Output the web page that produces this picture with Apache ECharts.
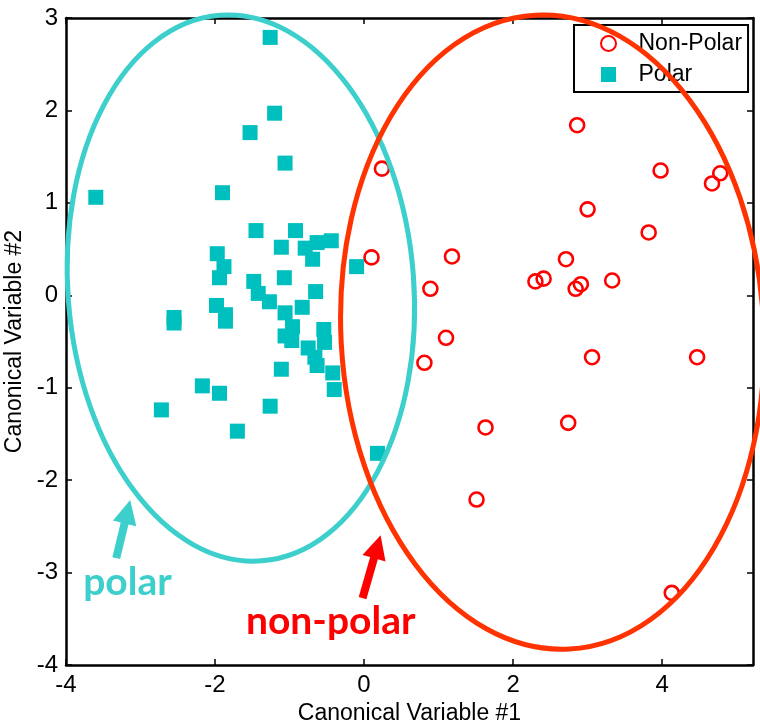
<!DOCTYPE html>
<html><head><meta charset="utf-8">
<script src="https://cdn.jsdelivr.net/npm/echarts@6/dist/echarts.min.js"></script>
<style>html,body{margin:0;padding:0;background:#fff}#c{width:760px;height:722px}</style>
</head><body><div id="c"></div>
<script>
// ---- data ----
const seriesNames = ['Non-Polar', 'Polar'];
const nonPolarX = [2.86, 0.24, 3.98, 4.78, 4.67, 3.00, 3.82, 0.10, 1.18, 2.71, 2.30, 2.41, 2.91, 2.84, 3.33, 0.89, 1.10, 0.81, 3.06, 4.47, 1.63, 2.74, 1.51, 4.13];
const nonPolarY = [1.84, 1.37, 1.35, 1.32, 1.21, 0.93, 0.68, 0.41, 0.42, 0.39, 0.15, 0.18, 0.12, 0.07, 0.16, 0.07, -0.46, -0.73, -0.67, -0.67, -1.43, -1.38, -2.21, -3.22];
const polarX = [-1.26, -1.20, -1.53, -1.06, -1.90, -3.60, -1.45, -0.92, -1.11, -0.79, -0.63, -0.44, -0.69, -0.10, -1.97, -1.88, -1.94, -1.48, -1.07, -1.42, -1.27, -0.65, -0.83, -1.06, -1.98, -1.86, -1.86, -2.55, -2.55, -0.96, -0.54, -1.06, -0.97, -0.53, -0.75, -0.66, -0.63, -1.11, -0.42, -0.40, -2.17, -1.94, -2.72, -1.26, -1.70, 0.18];
const polarY = [2.79, 1.97, 1.76, 1.43, 1.11, 1.06, 0.70, 0.70, 0.52, 0.51, 0.57, 0.59, 0.39, 0.31, 0.45, 0.31, 0.19, 0.15, 0.19, 0.02, -0.07, 0.04, -0.13, -0.19, -0.11, -0.21, -0.28, -0.24, -0.30, -0.34, -0.37, -0.44, -0.49, -0.51, -0.57, -0.67, -0.76, -0.80, -0.84, -1.02, -0.98, -1.06, -1.24, -1.20, -1.47, -1.71];
const xTicks = [-4, -2, 0, 2, 4];
const yTicks = [-4, -3, -2, -1, 0, 1, 2, 3];

// ---- annotation layout (data coordinates) ----
const ellipses = [
  { cx: -1.653, cy: 0.078, rx: 2.321, ry: 2.96, tilt: 4.4, color: '#3CCFCB' },
  { cx: 2.527, cy: -0.398, rx: 2.837, ry: 3.434, tilt: 3.08, color: '#FF3300' }
];
const notes = [
  { text: 'polar', color: '#3CCFCB', tail: [-3.326, -2.844], tip: [-3.138, -2.216], at: [-3.77, -3.105] },
  { text: 'non-polar', color: '#FF0000', tail: [-0.02, -3.277], tip: [0.222, -2.595], at: [-1.585, -3.53] }
];

const pairs = (xs, ys) => xs.map((x, i) => [x, ys[i]]);
const FONT = 'Liberation Sans, Arial, sans-serif';

function arrowPoints(t, p) {
  const dx = p[0] - t[0], dy = p[1] - t[1];
  const L = Math.hypot(dx, dy), ux = dx / L, uy = dy / L, nx = -uy, ny = ux;
  const hl = 24, hh = 12, sh = 4;
  const bx = p[0] - ux * hl, by = p[1] - uy * hl;
  return [
    [t[0] + nx * sh, t[1] + ny * sh], [bx + nx * sh, by + ny * sh], [bx + nx * hh, by + ny * hh],
    [p[0], p[1]], [bx - nx * hh, by - ny * hh], [bx - nx * sh, by - ny * sh], [t[0] - nx * sh, t[1] - ny * sh]
  ];
}

const tickStyle = { show: true, inside: true, length: 6, lineStyle: { color: '#000', width: 1.5 } };
const lineStyle = { show: true, onZero: false, lineStyle: { color: '#000', width: 2.5 } };

const chart = echarts.init(document.getElementById('c'), null, { renderer: 'canvas' });
chart.setOption({
  animation: false,
  backgroundColor: '#fff',
  grid: { left: 66, right: 7, top: 18, bottom: 57, outerBoundsMode: 'none', containLabel: false },
  legend: {
    data: seriesNames, orient: 'vertical', left: 574, top: 25,
    itemWidth: 50, itemHeight: 15, itemGap: 8,
    padding: [7, 6, 6, 26], borderColor: '#000', borderWidth: 2, backgroundColor: '#fff',
    textStyle: { fontSize: 23, color: '#000', fontFamily: FONT }, selectedMode: false
  },
  xAxis: [{
    type: 'value', min: -4, max: 5.22, position: 'bottom',
    axisLine: lineStyle, splitLine: { show: false },
    axisTick: Object.assign({ customValues: xTicks }, tickStyle),
    axisLabel: { customValues: xTicks, fontSize: 24, color: '#000', fontFamily: FONT, margin: 8 },
    name: 'Canonical Variable #1', nameLocation: 'middle', nameGap: 33,
    nameTextStyle: { fontSize: 23, color: '#000', fontFamily: FONT }
  }, {
    type: 'value', min: -4, max: 5.22, position: 'top',
    axisLine: lineStyle, splitLine: { show: false },
    axisTick: Object.assign({ customValues: xTicks }, tickStyle),
    axisLabel: { show: false }
  }],
  yAxis: [{
    type: 'value', min: -4, max: 3, position: 'left',
    axisLine: lineStyle, splitLine: { show: false },
    axisTick: Object.assign({ customValues: yTicks }, tickStyle),
    axisLabel: { customValues: yTicks, fontSize: 24, color: '#000', fontFamily: FONT, margin: 8 },
    name: 'Canonical Variable #2', nameLocation: 'middle', nameGap: 38, nameRotate: 90,
    nameTextStyle: { fontSize: 23, color: '#000', fontFamily: FONT }
  }, {
    type: 'value', min: -4, max: 3, position: 'right',
    axisLine: lineStyle, splitLine: { show: false },
    axisTick: Object.assign({ customValues: yTicks }, tickStyle),
    axisLabel: { show: false }
  }],
  series: [{
    name: seriesNames[0], type: 'scatter', data: pairs(nonPolarX, nonPolarY),
    symbol: 'circle', symbolSize: 14, z: 3,
    itemStyle: { color: 'rgba(255,255,255,0)', borderColor: '#FF0000', borderWidth: 2.6, opacity: 1 }
  }, {
    name: seriesNames[1], type: 'scatter', data: pairs(polarX, polarY),
    symbol: 'path://M0,0H10V10H0Z', symbolKeepAspect: true, symbolSize: 15, z: 3,
    itemStyle: { color: '#00BFBF', opacity: 1 }
  }, {
    type: 'custom', name: 'ellipses', clip: false, z: 6, silent: true,
    data: ellipses.map(e => [e.cx, e.cy]), encode: { x: 0, y: 1 },
    renderItem: function (params, api) {
      const e = ellipses[params.dataIndex];
      const c = api.coord([e.cx, e.cy]);
      const s = api.size([e.rx, e.ry]);
      return {
        type: 'ellipse', x: c[0], y: c[1], rotation: e.tilt * Math.PI / 180,
        shape: { cx: 0, cy: 0, rx: s[0], ry: s[1] },
        style: { fill: 'none', stroke: e.color, lineWidth: 5 }
      };
    }
  }, {
    type: 'custom', name: 'notes', clip: false, z: 6, silent: true,
    data: notes.map(n => n.at), encode: { x: 0, y: 1 },
    renderItem: function (params, api) {
      const n = notes[params.dataIndex];
      const t = api.coord(n.tail), p = api.coord(n.tip), a = api.coord(n.at);
      return {
        type: 'group', children: [
          { type: 'polygon', shape: { points: arrowPoints(t, p) }, style: { fill: n.color } },
          { type: 'text', x: a[0], y: a[1], style: { text: n.text, fill: n.color, font: 'bold 39px Lato', align: 'left', verticalAlign: 'middle' } }
        ]
      };
    }
  }]
});
</script></body></html>
